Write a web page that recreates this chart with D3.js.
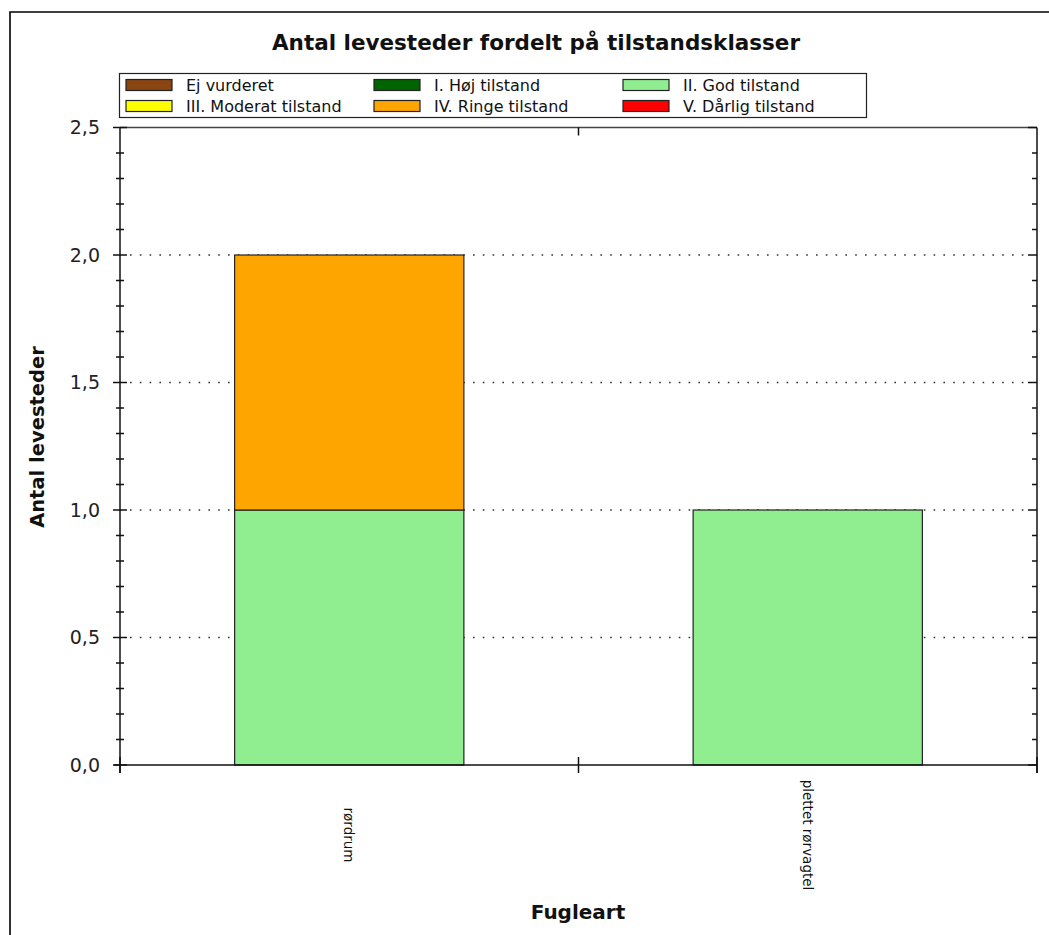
<!DOCTYPE html>
<html>
<head>
<meta charset="utf-8">
<script src="https://cdn.jsdelivr.net/npm/d3@7"></script>
<style>
  html, body { margin: 0; padding: 0; background: #fff; }
  svg { display: block; }
</style>
</head>
<body>
<svg id="chart" width="1049" height="935"></svg>
<script>
// ---- data ----
const categories = ["rørdrum", "plettet rørvagtel"];
const seriesNames = ["Ej vurderet", "I. Høj tilstand", "II. God tilstand",
                     "III. Moderat tilstand", "IV. Ringe tilstand", "V. Dårlig tilstand"];
const seriesColors = ["#8B4513", "#006400", "#90EE90", "#FFFF00", "#FFA500", "#FF0000"];
const ejVurderet = [0, 0];
const hojTilstand = [0, 0];
const godTilstand = [1, 1];
const moderatTilstand = [0, 0];
const ringeTilstand = [1, 0];
const darligTilstand = [0, 0];
const yTickValues = [0, 0.5, 1.0, 1.5, 2.0, 2.5];
const chartTitle = "Antal levesteder fordelt på tilstandsklasser";
const yTitle = "Antal levesteder";
const xTitle = "Fugleart";

const seriesValues = [ejVurderet, hojTilstand, godTilstand, moderatTilstand, ringeTilstand, darligTilstand];
const table = categories.map((c, i) => {
  const row = { cat: c };
  seriesNames.forEach((s, j) => row[s] = seriesValues[j][i]);
  return row;
});

// ---- layout ----
const svg = d3.select("#chart");
const L = 120, R = 1037, T = 127.5, B = 765;
const fontReg = "'DejaVu Sans', sans-serif";

const x = d3.scaleBand().domain(categories).range([L, R]).paddingInner(0.5).paddingOuter(0.25);
const y = d3.scaleLinear().domain([0, 2.5]).range([B, T]);
const fmt = d3.formatLocale({ decimal: ",", thousands: ".", grouping: [3], currency: ["", ""] }).format(".1f");

// outer frame
svg.append("path").attr("d", `M10,935 L10,12 L1049,12`).attr("fill", "none")
  .attr("stroke", "#000").attr("stroke-width", 1.6);

// title
svg.append("text").attr("x", 536).attr("y", 50).attr("text-anchor", "middle")
  .attr("font-family", fontReg).attr("font-weight", "bold").attr("font-size", 21.5)
  .attr("fill", "#111").text(chartTitle);

// gridlines (dotted)
svg.append("g").selectAll("line").data(yTickValues.filter(v => v > 0 && v < 2.5)).join("line")
  .attr("x1", L + 10).attr("x2", R - 6)
  .attr("y1", d => y(d)).attr("y2", d => y(d))
  .attr("stroke", "#333").attr("stroke-width", 1.4).attr("stroke-dasharray", "1.6,8.2");

// bars
const stack = d3.stack().keys(seriesNames);
const stacked = stack(table);
svg.append("g").selectAll("g").data(stacked).join("g")
  .attr("fill", (d, i) => seriesColors[i])
  .selectAll("rect").data(d => d.filter(p => p[1] - p[0] > 0)).join("rect")
  .attr("x", d => x(d.data.cat))
  .attr("width", x.bandwidth())
  .attr("y", d => y(d[1]))
  .attr("height", d => y(d[0]) - y(d[1]))
  .attr("stroke", "#222").attr("stroke-width", 1.2);

// plot frame lines
const axisG = svg.append("g").attr("stroke", "#111").attr("stroke-width", 1.5);
axisG.append("line").attr("x1", L).attr("x2", R).attr("y1", T).attr("y2", T).attr("stroke", "#444");
axisG.append("line").attr("x1", L).attr("x2", L).attr("y1", T).attr("y2", B + 8);
axisG.append("line").attr("x1", R).attr("x2", R).attr("y1", T).attr("y2", B + 8);
axisG.append("line").attr("x1", L - 6).attr("x2", R).attr("y1", B).attr("y2", B);

// y ticks (major and minor)
const minor = y.ticks(25);
axisG.selectAll(".lminor").data(minor).join("line")
  .attr("x1", d => yTickValues.includes(+d.toFixed(1)) ? L - 7 : L - 4)
  .attr("x2", d => yTickValues.includes(+d.toFixed(1)) ? L + 7 : L + 4)
  .attr("y1", d => y(d)).attr("y2", d => y(d));
axisG.selectAll(".rminor").data(minor).join("line")
  .attr("x1", d => yTickValues.includes(+d.toFixed(1)) ? R - 9 : R - 5)
  .attr("x2", R)
  .attr("y1", d => y(d)).attr("y2", d => y(d));

// x ticks at category boundaries
const step = x.step();
const bounds = [L, L + step * 1, R];
axisG.selectAll(".xb").data(bounds).join("line")
  .attr("x1", d => d).attr("x2", d => d)
  .attr("y1", B - 8).attr("y2", B + 8);
axisG.append("line").attr("x1", bounds[1]).attr("x2", bounds[1]).attr("y1", T).attr("y2", T + 8);

// y labels
svg.append("g").selectAll("text").data(yTickValues).join("text")
  .attr("x", 100).attr("y", d => y(d)).attr("dy", "0.36em")
  .attr("text-anchor", "end").attr("font-family", fontReg).attr("font-size", 19)
  .attr("fill", "#222").text(d => fmt(d));

// category labels
svg.append("g").selectAll("text").data(categories).join("text")
  .attr("transform", d => `translate(${x(d) + x.bandwidth() / 2},835) rotate(90)`)
  .attr("text-anchor", "middle").attr("dominant-baseline", "central")
  .attr("font-family", fontReg).attr("font-size", 13.5).attr("fill", "#111")
  .text(d => d);

// axis titles
svg.append("text").attr("transform", "translate(44,437) rotate(-90)")
  .attr("text-anchor", "middle").attr("font-family", fontReg).attr("font-weight", "bold")
  .attr("font-size", 19.5).attr("fill", "#111").text(yTitle);
svg.append("text").attr("x", 578).attr("y", 919).attr("text-anchor", "middle")
  .attr("font-family", fontReg).attr("font-weight", "bold")
  .attr("font-size", 20).attr("fill", "#111").text(xTitle);

// legend
const lg = svg.append("g");
lg.append("rect").attr("x", 119.5).attr("y", 73.5).attr("width", 747).attr("height", 44)
  .attr("fill", "#fff").attr("stroke", "#222").attr("stroke-width", 1.2);
const colX = [126, 374, 623];
const rowY = [85, 106];
const items = lg.selectAll("g").data(seriesNames).join("g")
  .attr("transform", (d, i) => `translate(${colX[i % 3]},${rowY[Math.floor(i / 3)]})`);
items.append("rect").attr("x", 0).attr("y", -5.5).attr("width", 46).attr("height", 11)
  .attr("fill", (d, i) => seriesColors[i]).attr("stroke", "#222").attr("stroke-width", 1.2);
items.append("text").attr("x", 60).attr("y", 0).attr("dominant-baseline", "central")
  .attr("font-family", fontReg).attr("font-size", 16).attr("fill", "#111").text(d => d);
</script>
</body>
</html>
